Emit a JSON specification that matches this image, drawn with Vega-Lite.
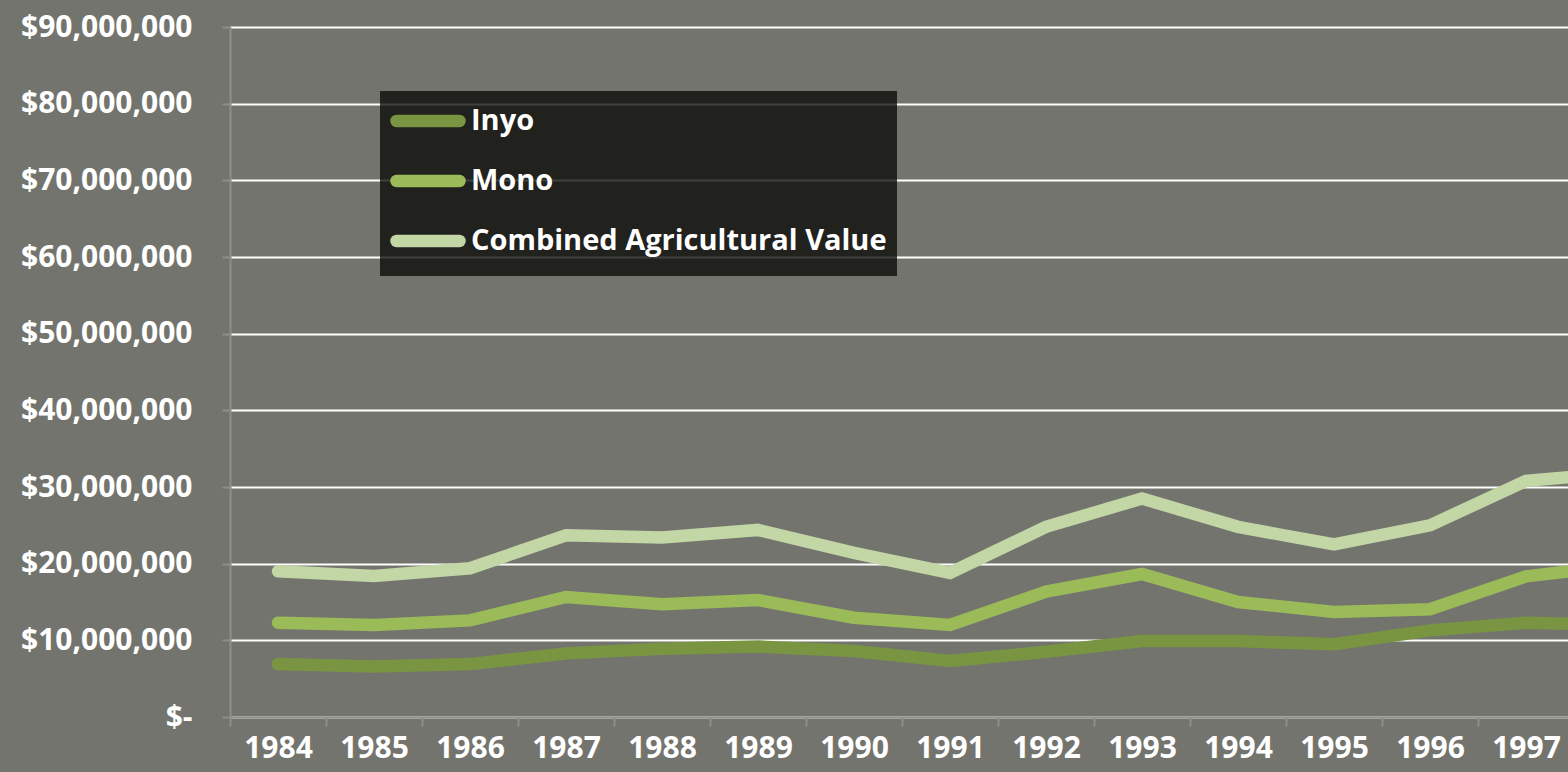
{
  "$schema": "https://vega.github.io/schema/vega-lite/v6.json",
  "autosize": "none",
  "padding": {"left": 230, "top": 27, "right": 0, "bottom": 55},
  "width": 1338,
  "height": 690,
  "background": "#74746e",
  "config": {
    "view": {"stroke": null},
    "font": "Open Sans"
  },
  "data": {
    "values": [
      {"year": "1984", "series": "Inyo", "value": 6900000},
      {"year": "1985", "series": "Inyo", "value": 6600000},
      {"year": "1986", "series": "Inyo", "value": 6900000},
      {"year": "1987", "series": "Inyo", "value": 8300000},
      {"year": "1988", "series": "Inyo", "value": 8900000},
      {"year": "1989", "series": "Inyo", "value": 9200000},
      {"year": "1990", "series": "Inyo", "value": 8600000},
      {"year": "1991", "series": "Inyo", "value": 7300000},
      {"year": "1992", "series": "Inyo", "value": 8500000},
      {"year": "1993", "series": "Inyo", "value": 9900000},
      {"year": "1994", "series": "Inyo", "value": 9900000},
      {"year": "1995", "series": "Inyo", "value": 9500000},
      {"year": "1996", "series": "Inyo", "value": 11300000},
      {"year": "1997", "series": "Inyo", "value": 12300000},
      {"year": "1998", "series": "Inyo", "value": 12000000},
      {"year": "1984", "series": "Mono", "value": 12300000},
      {"year": "1985", "series": "Mono", "value": 12000000},
      {"year": "1986", "series": "Mono", "value": 12600000},
      {"year": "1987", "series": "Mono", "value": 15650000},
      {"year": "1988", "series": "Mono", "value": 14700000},
      {"year": "1989", "series": "Mono", "value": 15250000},
      {"year": "1990", "series": "Mono", "value": 12950000},
      {"year": "1991", "series": "Mono", "value": 12000000},
      {"year": "1992", "series": "Mono", "value": 16350000},
      {"year": "1993", "series": "Mono", "value": 18650000},
      {"year": "1994", "series": "Mono", "value": 15000000},
      {"year": "1995", "series": "Mono", "value": 13700000},
      {"year": "1996", "series": "Mono", "value": 14050000},
      {"year": "1997", "series": "Mono", "value": 18350000},
      {"year": "1998", "series": "Mono", "value": 19800000},
      {"year": "1984", "series": "Combined Agricultural Value", "value": 19000000},
      {"year": "1985", "series": "Combined Agricultural Value", "value": 18400000},
      {"year": "1986", "series": "Combined Agricultural Value", "value": 19400000},
      {"year": "1987", "series": "Combined Agricultural Value", "value": 23700000},
      {"year": "1988", "series": "Combined Agricultural Value", "value": 23400000},
      {"year": "1989", "series": "Combined Agricultural Value", "value": 24400000},
      {"year": "1990", "series": "Combined Agricultural Value", "value": 21400000},
      {"year": "1991", "series": "Combined Agricultural Value", "value": 18800000},
      {"year": "1992", "series": "Combined Agricultural Value", "value": 24800000},
      {"year": "1993", "series": "Combined Agricultural Value", "value": 28500000},
      {"year": "1994", "series": "Combined Agricultural Value", "value": 24800000},
      {"year": "1995", "series": "Combined Agricultural Value", "value": 22500000},
      {"year": "1996", "series": "Combined Agricultural Value", "value": 25000000},
      {"year": "1997", "series": "Combined Agricultural Value", "value": 30800000},
      {"year": "1998", "series": "Combined Agricultural Value", "value": 31900000}
    ]
  },
  "mark": {"type": "line", "strokeWidth": 12.5, "strokeCap": "round", "strokeJoin": "miter"},
  "encoding": {
    "x": {
      "field": "year",
      "type": "ordinal",
      "scale": {"type": "band", "paddingInner": 0, "paddingOuter": 0, "range": [0, 1440]},
      "axis": {
        "title": null,
        "labelAngle": 0,
        "tickBand": "extent",
        "tickSize": 9,
        "tickWidth": 2,
        "tickColor": "#8e8e8a",
        "domainColor": "#8e8e8a",
        "domainWidth": 2,
        "labelPadding": 7,
        "labelFont": "Open Sans",
        "labelFontWeight": "bold",
        "labelFontSize": 30,
        "labelColor": "#ffffff",
        "grid": false
      }
    },
    "y": {
      "field": "value",
      "type": "quantitative",
      "scale": {"domain": [0, 90000000], "nice": false, "zero": true},
      "axis": {
        "title": null,
        "values": [0, 10000000, 20000000, 30000000, 40000000, 50000000, 60000000, 70000000, 80000000, 90000000],
        "labelExpr": "datum.value === 0 ? '$-' : '$' + format(datum.value, ',')",
        "tickSize": 8,
        "tickWidth": 2,
        "tickColor": "#8e8e8a",
        "domainColor": "#8e8e8a",
        "domainWidth": 2,
        "labelPadding": 30,
        "labelFont": "Open Sans",
        "labelFontWeight": "bold",
        "labelFontSize": 30,
        "labelColor": "#ffffff",
        "grid": true,
        "gridColor": "#ffffff",
        "gridWidth": 2,
        "gridOpacity": 1
      }
    },
    "color": {
      "field": "series",
      "type": "nominal",
      "scale": {
        "domain": ["Inyo", "Mono", "Combined Agricultural Value"],
        "range": ["#799542", "#9bbb59", "#c3d6a6"]
      },
      "legend": {
        "title": null,
        "orient": "none",
        "legendX": 150,
        "legendY": 64,
        "direction": "vertical",
        "fillColor": "rgba(10,10,8,0.78)",
        "strokeColor": null,
        "padding": 10,
        "symbolType": "M-2.333,0L2.333,0",
        "symbolSize": 729,
        "symbolStrokeWidth": 12.5,
        "symbolOffset": 18,
        "labelOffset": 23,
        "rowPadding": 10,
        "labelFont": "Open Sans",
        "labelFontWeight": "bold",
        "labelFontSize": 29,
        "labelColor": "#ffffff",
        "labelLimit": 600,
        "encode": {
          "symbols": {"update": {"strokeCap": {"value": "round"}}}
        }
      }
    }
  }
}
